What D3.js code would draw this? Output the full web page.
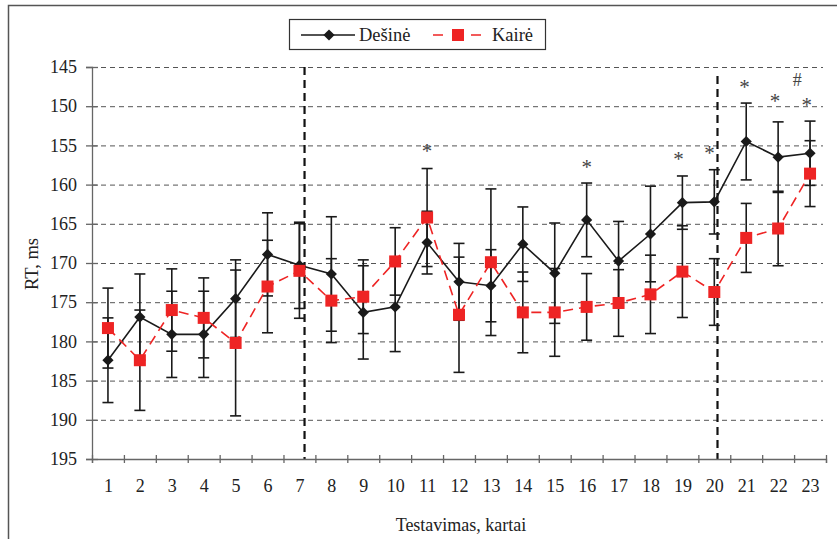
<!DOCTYPE html>
<html>
<head>
<meta charset="utf-8">
<script src="https://cdn.jsdelivr.net/npm/d3@7"></script>
<style>
  body { margin: 0; background: #fff; }
  svg { display: block; font-family: "Liberation Serif", "Times New Roman", serif; }
</style>
</head>
<body>
<div id="chart"></div>
<script>
// testing sessions 1..23
var sessions = d3.range(1, 24)
// Dešinė (right hand) mean RT and error
var desine = [182.4, 176.9, 179.1, 179.1, 174.55, 168.9, 170.3, 171.4, 176.3, 175.6, 167.4, 172.4,
    172.9, 167.6, 171.3, 164.5, 169.75, 166.3, 162.3, 162.2, 154.5, 156.5, 156.0]
var desineErr = [5.4, 5.5, 5.5, 5.5, 4.95, 5.3, 5.5, 7.3, 5.95, 5.7, 4.0, 4.9,
    4.6, 4.75, 6.4, 4.7, 5.05, 6.1, 3.4, 4.1, 4.9, 4.5, 4.1]
// Kairė (left hand)
var kaire = [178.3, 182.4, 176.0, 177.0, 180.2, 173.0, 171.0, 174.8, 174.3, 169.8, 164.2, 176.6,
    169.9, 176.3, 176.3, 175.6, 175.1, 174.0, 171.1, 173.7, 166.8, 165.6, 158.6]
var kaireErr = [5.1, 6.4, 5.25, 5.1, 9.3, 5.9, 6.05, 5.35, 4.7, 4.3, 6.25, 7.35,
    9.35, 5.15, 5.6, 4.25, 4.25, 5.0, 5.85, 4.25, 4.4, 4.75, 4.2]
var yTicks = [145, 150, 155, 160, 165, 170, 175, 180, 185, 190, 195]
var dividers = [7.16, 20.1]
// significance marks: session position, RT level, symbol
var marks = [
    { x: 11, v: 155.3, s: "*" },
    { x: 16, v: 157.4, s: "*" },
    { x: 18.88, v: 156.35, s: "*" },
    { x: 19.85, v: 155.65, s: "*" },
    { x: 20.95, v: 147.2, s: "*" },
    { x: 21.9, v: 149.0, s: "*" },
    { x: 22.9, v: 149.5, s: "*" },
    { x: 22.6, v: 146.7, s: "#" }
]

var width = 837, height = 539
var svg = d3.select("#chart").append("svg").attr("width", width).attr("height", height)

// outer frame
svg.append("path").attr("d", "M8.5,545 L8.5,5.5 L845,5.5")
    .attr("fill", "none").attr("stroke", "#555").attr("stroke-width", 1.5)

var x = d3.scaleLinear().domain([0.5, 23.5]).range([92, 826])
var y = d3.scaleLinear().domain([145, 195]).range([67, 459])

// grid
svg.append("g").selectAll("line").data(yTicks.slice(0, -1)).enter().append("line")
    .attr("x1", x(0.5)).attr("x2", 823)
    .attr("y1", d => y(d) + 0.5).attr("y2", d => y(d) + 0.5)
    .attr("stroke", "#555").attr("stroke-width", 1).attr("stroke-dasharray", "5,4")

// dividers
svg.append("g").selectAll("line").data(dividers).enter().append("line")
    .attr("x1", d => x(d)).attr("x2", d => x(d))
    .attr("y1", (d, i) => i == 0 ? y(145) : 76).attr("y2", y(195))
    .attr("stroke", "#111").attr("stroke-width", 2.2).attr("stroke-dasharray", "8,5")

// axes
var yAxis = svg.append("g").attr("transform", "translate(" + x(0.5) + ",0)")
    .call(d3.axisLeft(y).tickValues(yTicks).tickSize(6).tickPadding(9))
yAxis.selectAll(".tick line").attr("x2", 6).attr("x1", -6)
var xAxis = svg.append("g").attr("transform", "translate(0," + y(195) + ")")
    .call(d3.axisBottom(x).tickValues(d3.range(0.5, 24, 1)).tickFormat("").tickSize(4))
xAxis.selectAll(".tick line").attr("y1", -4)
var xLabels = svg.append("g").attr("transform", "translate(0," + y(195) + ")")
    .call(d3.axisBottom(x).tickValues(sessions).tickFormat(d3.format("d")).tickSize(0).tickPadding(20))
xLabels.select(".domain").remove()
svg.selectAll(".domain").attr("stroke", "#666").attr("stroke-width", 1.3)
svg.selectAll(".tick line").attr("stroke", "#666").attr("stroke-width", 1.3)
svg.selectAll(".tick text").attr("font-family", "Liberation Serif").attr("font-size", 18).attr("fill", "#222")

// error bars
function errorBars(vals, errs) {
    var g = svg.append("g").attr("stroke", "#1a1a1a").attr("stroke-width", 1.6)
    vals.forEach(function (v, i) {
        var cx = x(sessions[i]), lo = y(v - errs[i]), hi = y(v + errs[i])
        g.append("line").attr("x1", cx).attr("x2", cx).attr("y1", lo).attr("y2", hi)
        g.append("line").attr("x1", cx - 5.5).attr("x2", cx + 5.5).attr("y1", lo).attr("y2", lo)
        g.append("line").attr("x1", cx - 5.5).attr("x2", cx + 5.5).attr("y1", hi).attr("y2", hi)
    })
}
errorBars(desine, desineErr)
errorBars(kaire, kaireErr)

var line = d3.line().x((d, i) => x(sessions[i])).y(d => y(d))
svg.append("path").datum(desine).attr("d", line)
    .attr("fill", "none").attr("stroke", "#1a1a1a").attr("stroke-width", 1.6)
svg.append("path").datum(kaire).attr("d", line)
    .attr("fill", "none").attr("stroke", "#ee2424").attr("stroke-width", 1.6).attr("stroke-dasharray", "10,6")

var diamond = d3.symbol().type(d3.symbolDiamond2).size(80)
svg.append("g").selectAll("path").data(desine).enter().append("path")
    .attr("d", diamond)
    .attr("transform", (d, i) => "translate(" + x(sessions[i]) + "," + y(d) + ")")
    .attr("fill", "#1a1a1a")
svg.append("g").selectAll("rect").data(kaire).enter().append("rect")
    .attr("x", (d, i) => x(sessions[i]) - 6).attr("y", d => y(d) - 6)
    .attr("width", 12).attr("height", 12).attr("fill", "#ee2424")

// significance marks
svg.append("g").selectAll("text").data(marks).enter().append("text")
    .attr("x", d => x(d.x)).attr("y", d => y(d.v) + (d.s == "*" ? 10 : 6))
    .attr("text-anchor", "middle").attr("font-size", d => d.s == "*" ? 21 : 18).attr("fill", "#444")
    .text(d => d.s)

// axis titles
svg.append("text").attr("transform", "translate(38,264) rotate(-90)")
    .attr("text-anchor", "middle").attr("font-size", 18.5).attr("fill", "#222").text("RT, ms")
svg.append("text").attr("x", 461).attr("y", 531)
    .attr("text-anchor", "middle").attr("font-size", 18).attr("fill", "#222").text("Testavimas, kartai")

// legend
var lg = svg.append("g")
lg.append("rect").attr("x", 289.5).attr("y", 19.5).attr("width", 256).attr("height", 30)
    .attr("fill", "#fff").attr("stroke", "#333").attr("stroke-width", 1.2)
lg.append("line").attr("x1", 301).attr("x2", 355).attr("y1", 35).attr("y2", 35)
    .attr("stroke", "#1a1a1a").attr("stroke-width", 1.6)
lg.append("path").attr("d", diamond).attr("transform", "translate(329,35)").attr("fill", "#1a1a1a")
lg.append("text").attr("x", 359).attr("y", 41).attr("font-size", 18.5).attr("fill", "#222").text("Dešinė")
lg.append("line").attr("x1", 433).attr("x2", 483).attr("y1", 35).attr("y2", 35)
    .attr("stroke", "#ee2424").attr("stroke-width", 1.6).attr("stroke-dasharray", "10,9")
lg.append("rect").attr("x", 452).attr("y", 29).attr("width", 12).attr("height", 12).attr("fill", "#ee2424")
lg.append("text").attr("x", 492).attr("y", 41).attr("font-size", 18.5).attr("fill", "#222").text("Kairė")
</script>
</body>
</html>
